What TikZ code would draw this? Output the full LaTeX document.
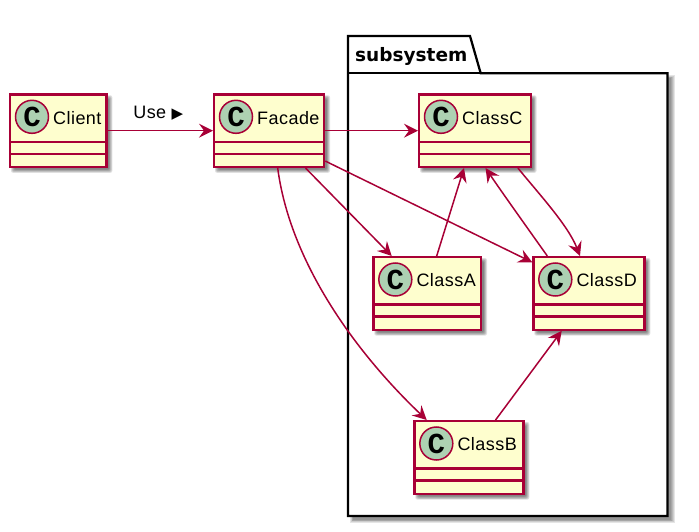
\documentclass[tikz,border=0pt]{standalone}
\usepackage{fontspec}
\setmainfont[LetterSpace=2.5]{Liberation Sans}
\newfontfamily\symfont{DejaVu Sans}
\newfontfamily\pkgfont{DejaVu Sans}
\newfontfamily\spotfont{Liberation Mono}
\usetikzlibrary{arrows.meta,calc}
\definecolor{umlred}{HTML}{A80036}
\definecolor{umlfill}{HTML}{FEFECE}
\definecolor{spot}{HTML}{ADD1B2}
\tikzset{
  conn/.style={draw=umlred,line width=1.5pt,-{Stealth[length=14pt,width=14pt,inset=5pt]}},
  plainlabel/.style={inner sep=0pt,font=\fontsize{18}{20}\selectfont,anchor=west},
  classbox/.style={draw=umlred,fill=umlfill,line width=2.25pt,inner sep=0pt,rectangle},
  spotc/.style={circle,draw=umlred,fill=spot,line width=1.5pt,minimum size=33pt,inner sep=0pt,font=\spotfont\bfseries\fontsize{29}{29}\selectfont},
  divider/.style={draw=umlred,line width=2.25pt},
}
\newcommand{\softshadow}[4]{%
  \foreach \d/\o in {0/.12,1/.12,2/.12,3/.12,4/.12}{
    \fill[black,opacity=\o,rounded corners=2pt] (#1+4+\d*.8-2,#2+4+\d*.8-2) rectangle (#3+4-\d*.8+3,#4+4-\d*.8+3);
  }}
\newcommand{\umlclass}[6]{% name, x0,y0,x1,y1, label
  \softshadow{#2}{#3}{#4}{#5}
  \node[classbox,minimum width={(#4-#2)*1pt},minimum height={(#5-#3)*1pt},anchor=north west] (#1) at (#2,#3) {};
  \node[spotc] (#1spot) at (#2+23,#3+23.5) {C};
  \node[plainlabel] (#1label) at (#2+44,#3+24.5) {#6};
  \draw[divider] (#2,#3+48.4) -- (#4,#3+48.4);
  \draw[divider] (#2,#3+60.4) -- (#4,#3+60.4);
}
\begin{document}
\begin{tikzpicture}[x=1pt,y=-1pt]
\useasboundingbox (0,0) rectangle (699,532);
% package
\foreach \d in {0,1,2,3,4}{
  \fill[black,opacity=.10] (348+4+\d*.8-2,73+4+\d*.8-2) rectangle (667.5+4-\d*.8+3,516+4-\d*.8+3);
}
\draw[black,line width=2.25pt,fill=white] (348,73.3) -- (348,36) -- (470,36) -- (480.7,73.3) -- (667.5,73.3) -- (667.5,516) -- (348,516) -- cycle;
\draw[black,line width=2.25pt] (348,73.3) -- (480.7,73.3);
\node[inner sep=0pt,anchor=west,font=\pkgfont\bfseries\fontsize{18.5}{20}\selectfont] (pkg) at (355,56) {subsystem};
% classes
\umlclass{client}{9}{93.3}{105.3}{165.8}{Client}
\umlclass{facade}{213}{93.3}{323}{165.8}{Facade}
\umlclass{classc}{418}{93.3}{529.5}{165.8}{ClassC}
\umlclass{classa}{372.3}{256}{480}{328.6}{ClassA}
\umlclass{classd}{532.3}{256}{643.3}{328.6}{ClassD}
\umlclass{classb}{413.3}{420}{522.3}{492.6}{ClassB}
% connectors
\draw[conn] (client.east) -- (facade.west) node[midway,above=10pt,xshift=-2pt,inner sep=0pt,font=\fontsize{18}{20}\selectfont] (use) {Use {\symfont\fontsize{15}{15}\selectfont ▶}};
\draw[conn] (facade.east) -- (classc.west);
\draw[conn] ([xshift=-19.7pt]facade.south east) -- ([xshift=19.4pt]classa.north west);
\draw[conn] ([yshift=7pt]facade.south east) -- ([yshift=-6.3pt]classd.north west);
\draw[conn] ([xshift=64.7pt]facade.south west) .. controls ([xshift=77pt,yshift=-94pt]facade.south west) and ([xshift=-58pt,yshift=68pt]classb.north west) .. ([xshift=13.4pt]classb.north west);
\draw[conn] ([xshift=64.4pt]classa.north west) -- ([xshift=46pt]classc.south west);
\draw[conn] ([xshift=15pt]classd.north west) .. controls ([xshift=-2pt,yshift=24pt]classd.north west) and ([xshift=-30pt,yshift=-24pt]classc.south east) .. ([xshift=-46.2pt]classc.south east);
\draw[conn] ([xshift=-13.8pt]classc.south east) .. controls ([xshift=5.5pt,yshift=-24pt]classc.south east) and ([xshift=35.7pt,yshift=31pt]classd.north west) .. ([xshift=47.7pt]classd.north west);
\draw[conn] ([xshift=-29pt]classb.north east) -- ([xshift=29.4pt]classd.south west);
\end{tikzpicture}
\end{document}
